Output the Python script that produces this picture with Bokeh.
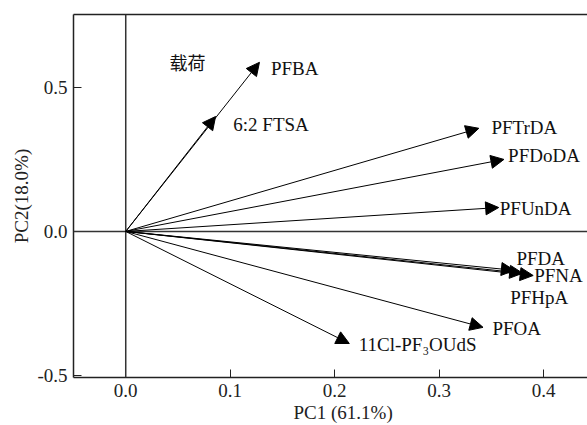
from bokeh.plotting import figure
from bokeh.models import (ColumnDataSource, Arrow, NormalHead, Span, LinearAxis,
                          FixedTicker, Range1d, Title)
from bokeh.core.properties import value
from bokeh.embed import file_html
from bokeh.resources import INLINE

# loadings (PC1, PC2)
names = ["PFBA", "6:2 FTSA", "PFTrDA", "PFDoDA", "PFUnDA", "PFDA", "PFNA",
         "PFHpA", "PFOA", "11Cl-PF\u2083OUdS"]
pc1 = [0.128, 0.086, 0.338, 0.362, 0.357, 0.372, 0.390, 0.380, 0.342, 0.214]
pc2 = [0.587, 0.399, 0.358, 0.250, 0.083, -0.135, -0.153, -0.145, -0.333, -0.389]
# label anchor points
lab_x = [0.139, 0.103, 0.350, 0.366, 0.358, 0.374, 0.391, 0.368, 0.351, 0.223]
lab_y = [0.566, 0.372, 0.361, 0.264, 0.080, -0.094, -0.153, -0.229, -0.337, -0.392]

title_text = ["载荷"]
title_x = [0.042]
title_y = [0.587]

x_ticks = [0.0, 0.1, 0.2, 0.3, 0.4]
x_tick_labels = ["0.0", "0.1", "0.2", "0.3", "0.4"]
y_ticks = [-0.5, 0.0, 0.5]
y_tick_labels = ["-0.5", "0.0", "0.5"]

serif = "Liberation Serif"

p = figure(width=587, height=425, output_backend="svg", toolbar_location=None,
           x_range=Range1d(-0.05, 0.442), y_range=Range1d(-0.507, 0.753),
           min_border_left=73, min_border_right=0, min_border_top=14,
           min_border_bottom=48)
p.outline_line_color = None
p.grid.visible = False
p.background_fill_color = "white"
p.border_fill_color = "white"

for ax in (p.xaxis[0], p.yaxis[0]):
    ax.axis_line_color = "#222222"
    ax.axis_line_width = 1.5
    ax.major_tick_in = 8
    ax.major_tick_out = 0
    ax.minor_tick_line_color = None
    ax.major_tick_line_color = "#222222"
    ax.major_label_text_font = serif
    ax.major_label_text_font_size = "19px"
    ax.major_label_text_color = "#222222"
    ax.axis_label_text_font = serif
    ax.axis_label_text_font_size = "19px"
    ax.axis_label_text_font_style = "normal"
    ax.axis_label_text_color = "#222222"

p.xaxis[0].ticker = FixedTicker(ticks=x_ticks)
p.xaxis[0].major_label_overrides = dict(zip(x_ticks, x_tick_labels))
p.yaxis[0].ticker = FixedTicker(ticks=y_ticks)
p.yaxis[0].major_label_overrides = dict(zip(y_ticks, y_tick_labels))
p.yaxis[0].axis_label = "PC2(18.0%)"
p.xaxis[0].major_label_standoff = 6
p.yaxis[0].major_label_standoff = 6
p.yaxis[0].axis_label_standoff = 2

xlab = Title(text="PC1 (61.1%)", align="left", offset=220, standoff=0,
             text_font=serif, text_font_size="19px", text_font_style="normal",
             text_color="#222222")
p.add_layout(xlab, "below")

top = LinearAxis(ticker=FixedTicker(ticks=[]), major_tick_line_color=None,
                 minor_tick_line_color=None, axis_line_color="#222222",
                 axis_line_width=1.5)
p.add_layout(top, "above")

p.add_layout(Span(location=0, dimension="height", line_color="#333333", line_width=1.5))
p.add_layout(Span(location=0, dimension="width", line_color="#333333", line_width=1.5))

src = ColumnDataSource(dict(x0=[0.0] * len(pc1), y0=[0.0] * len(pc2), x1=pc1, y1=pc2))
p.add_layout(Arrow(source=src, x_start="x0", y_start="y0", x_end="x1", y_end="y1",
                   line_color="black", line_width=1,
                   end=NormalHead(size=13, fill_color="black", line_color="black",
                                  line_width=1)))

lsrc = ColumnDataSource(dict(x=lab_x, y=lab_y, t=names))
p.text(x="x", y="y", text="t", source=lsrc, text_font=value(serif),
       text_font_size="19px", text_align="left", text_baseline="middle",
       text_color="#111111")

p.text(x=title_x, y=title_y, text=title_text, text_font=value("Noto Sans CJK SC"),
       text_font_size="18px", text_align="left", text_baseline="middle",
       text_color="#111111")

open("out.html", "w").write(file_html(p, INLINE))
